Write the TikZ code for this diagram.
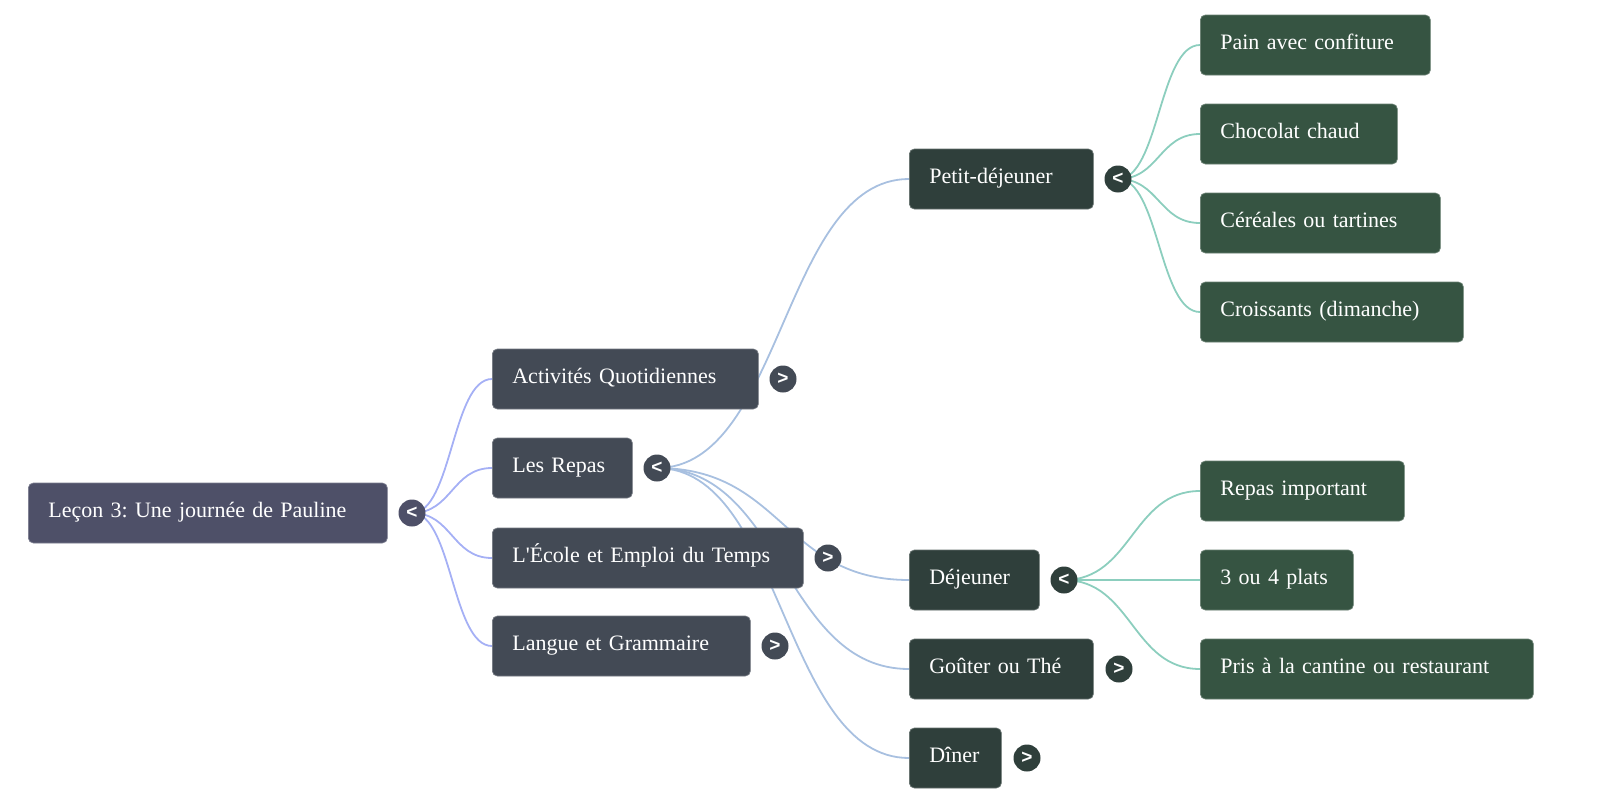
\documentclass[tikz,border=0pt]{standalone}
\usepackage{fontspec}
\setmainfont{Liberation Serif}[Ligatures=TeXOff]
\setsansfont{Liberation Sans}
\frenchspacing
\definecolor{croot}{HTML}{4E5068}
\definecolor{cone}{HTML}{434A55}
\definecolor{ctwo}{HTML}{2F3F3B}
\definecolor{cthree}{HTML}{365442}
\definecolor{eroot}{HTML}{A5B0F5}
\definecolor{eone}{HTML}{A8C0E0}
\definecolor{etwo}{HTML}{8CCEBE}
\tikzset{
  box/.style={anchor=west, rounded corners=5pt, minimum height=60pt, inner xsep=20pt, inner ysep=0pt,
    text height=15pt, text depth=6.5pt,
    align=left, text=white, font=\fontsize{22}{26}\selectfont, line width=0.7pt},
  broot/.style={box, fill=croot, draw=croot!75!white},
  bone/.style={box, fill=cone, draw=cone!75!white},
  btwo/.style={box, fill=ctwo, draw=ctwo!75!white},
  bthree/.style={box, fill=cthree, draw=cthree!75!white},
  tog/.style={circle, minimum size=27pt, inner sep=0pt, text=white, font=\sffamily\bfseries\fontsize{19}{19}\selectfont},
  edge/.style={line width=1.8pt},
}
\begin{document}
\begin{tikzpicture}[x=1pt,y=-1pt]
\useasboundingbox (0,0) rectangle (1600,803);
% toggle coordinates
\coordinate (rootT) at (412,513);
\coordinate (repT) at (657,468);
\coordinate (pdjT) at (1118,179);
\coordinate (dejT) at (1064,580);
\coordinate (actL) at (492,379);
\coordinate (repL) at (492,468);
\coordinate (ecoL) at (492,558);
\coordinate (lanL) at (492,646);
\coordinate (pdjL) at (909,179);
\coordinate (dejL) at (909,580);
\coordinate (gouL) at (909,669);
\coordinate (dinL) at (909,758);
\coordinate (painL) at (1200,45);
\coordinate (chocL) at (1200,134);
\coordinate (cerL) at (1200,223);
\coordinate (croL) at (1200,312);
\coordinate (rimpL) at (1200,491);
\coordinate (platL) at (1200,580);
\coordinate (prisL) at (1200,669);
% edges
\draw[edge, eroot] (rootT) .. controls +(40,0) and +(-40,0) .. (actL);
\draw[edge, eroot] (rootT) .. controls +(40,0) and +(-40,0) .. (repL);
\draw[edge, eroot] (rootT) .. controls +(40,0) and +(-40,0) .. (ecoL);
\draw[edge, eroot] (rootT) .. controls +(40,0) and +(-40,0) .. (lanL);
\draw[edge, eone] (repT) .. controls +(126,0) and +(-126,0) .. (pdjL);
\draw[edge, eone] (repT) .. controls +(126,0) and +(-126,0) .. (dejL);
\draw[edge, eone] (repT) .. controls +(126,0) and +(-126,0) .. (gouL);
\draw[edge, eone] (repT) .. controls +(126,0) and +(-126,0) .. (dinL);
\draw[edge, etwo] (pdjT) .. controls +(41,0) and +(-41,0) .. (painL);
\draw[edge, etwo] (pdjT) .. controls +(41,0) and +(-41,0) .. (chocL);
\draw[edge, etwo] (pdjT) .. controls +(41,0) and +(-41,0) .. (cerL);
\draw[edge, etwo] (pdjT) .. controls +(41,0) and +(-41,0) .. (croL);
\draw[edge, etwo] (dejT) .. controls +(68,0) and +(-68,0) .. (rimpL);
\draw[edge, etwo] (dejT) .. controls +(68,0) and +(-68,0) .. (platL);
\draw[edge, etwo] (dejT) .. controls +(68,0) and +(-68,0) .. (prisL);
% nodes (boxes)
\node[broot, text width=319pt] (root) at (28,513) {Leçon 3: Une journée de Pauline};
\node[bone, text width=226pt] (act) at (actL) {Activités Quotidiennes};
\node[bone, text width=100pt] (rep) at (repL) {Les Repas};
\node[bone, text width=271pt] (eco) at (ecoL) {L'École et Emploi du Temps};
\node[bone, text width=218pt] (lan) at (lanL) {Langue et Grammaire};
\node[btwo, text width=144pt] (pdj) at (pdjL) {Petit-déjeuner};
\node[btwo, text width=90pt] (dej) at (dejL) {Déjeuner};
\node[btwo, text width=144pt] (gou) at (gouL) {Goûter ou Thé};
\node[btwo, text width=52pt] (din) at (dinL) {Dîner};
\node[bthree, text width=190pt] (pain) at (painL) {Pain avec confiture};
\node[bthree, text width=157pt] (choc) at (chocL) {Chocolat chaud};
\node[bthree, text width=200pt] (cer) at (cerL) {Céréales ou tartines};
\node[bthree, text width=223pt] (cro) at (croL) {Croissants (dimanche)};
\node[bthree, text width=164pt] (rimp) at (rimpL) {Repas important};
\node[bthree, text width=113pt] (plat) at (platL) {3 ou 4 plats};
\node[bthree, text width=293pt] (pris) at (prisL) {Pris à la cantine ou restaurant};
% toggles
\node[tog, fill=croot] (rootTog) at (rootT) {<};
\node[tog, fill=cone] (actTog) at (783,379) {>};
\node[tog, fill=cone] (repTog) at (repT) {<};
\node[tog, fill=cone] (ecoTog) at (828,558) {>};
\node[tog, fill=cone] (lanTog) at (775,646) {>};
\node[tog, fill=ctwo] (pdjTog) at (pdjT) {<};
\node[tog, fill=ctwo] (dejTog) at (dejT) {<};
\node[tog, fill=ctwo] (gouTog) at (1119,669) {>};
\node[tog, fill=ctwo] (dinTog) at (1027,758) {>};
\end{tikzpicture}
\end{document}
